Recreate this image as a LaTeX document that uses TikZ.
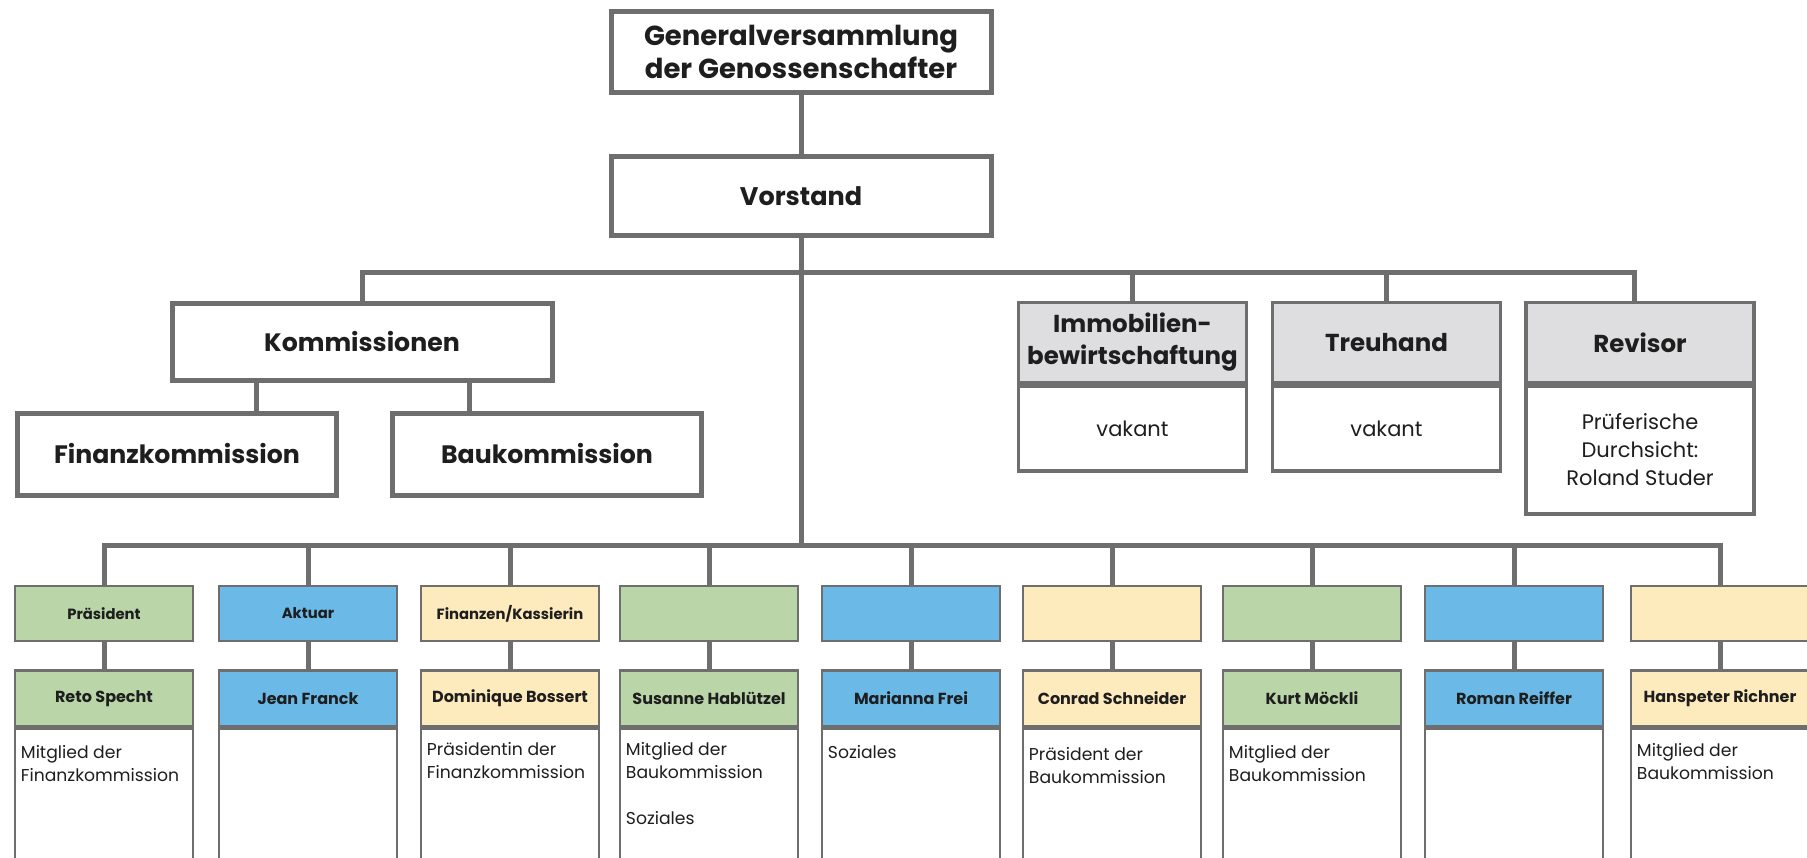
\documentclass[tikz,border=0pt]{standalone}
\usepackage{fontspec}
\setmainfont{Poppins}
\usetikzlibrary{calc}
\definecolor{lineGray}{HTML}{6E6E6E}
\definecolor{hdrGray}{HTML}{DEDEE0}
\definecolor{cGreen}{HTML}{BAD5A8}
\definecolor{cBlue}{HTML}{6BB9E7}
\definecolor{cYellow}{HTML}{FEEBBD}
\definecolor{txt}{HTML}{1E1E1E}
\begin{document}
\begin{tikzpicture}[x=1pt,y=-1pt,
  lnk/.style={draw=lineGray,line width=5pt},
  bigbox/.style={draw=lineGray,line width=5pt,fill=white,align=center,text=txt,inner sep=0pt},
  hdrbox/.style={draw=lineGray,line width=3.5pt,fill=hdrGray,align=center,text=txt,inner sep=0pt,
     minimum width=228pt,minimum height=80pt,font=\bfseries\fontsize{24.5}{32}\selectfont},
  hbody/.style={draw=lineGray,line width=3.5pt,fill=white,align=center,text=txt,inner sep=0pt,
     minimum width=228pt,anchor=north,font=\fontsize{21}{28}\selectfont},
  rolebox/.style={draw=lineGray,line width=2.5pt,align=center,text=txt,inner sep=0pt,
     minimum width=178pt,minimum height=55pt,font=\bfseries\fontsize{14.8}{17}\selectfont},
  namebox/.style={draw=lineGray,line width=2.5pt,align=center,text=txt,inner sep=0pt,
     minimum width=178pt,minimum height=56pt,anchor=north,font=\bfseries\fontsize{16}{18}\selectfont},
  bodybox/.style={draw=lineGray,line width=2.5pt,fill=white,inner sep=0pt,
     minimum width=178pt,minimum height=150pt,anchor=north},
  bodytxt/.style={align=left,text=txt,inner sep=0pt,anchor=north west,font=\fontsize{17.2}{23}\selectfont}
]
\useasboundingbox[fill=white] (0,0) rectangle (1807,857);

% top
\node[bigbox,minimum width=380pt,minimum height=81pt,font=\bfseries\fontsize{27.5}{33}\selectfont] (gv) at (801,52) {Generalversammlung\\der Genossenschafter};
\node[bigbox,minimum width=380pt,minimum height=79pt,font=\bfseries\fontsize{25.5}{33}\selectfont] (vs) at (801,196) {Vorstand};

% commissions
\node[bigbox,minimum width=380pt,minimum height=77pt,font=\bfseries\fontsize{25.2}{30}\selectfont] (komm) at (362,342) {Kommissionen};
\node[bigbox,minimum width=319pt,minimum height=82pt,font=\bfseries\fontsize{25.2}{30}\selectfont] (fin) at (177,454) {Finanzkommission};
\node[bigbox,minimum width=309pt,minimum height=82pt,font=\bfseries\fontsize{25.2}{30}\selectfont] (bau) at (547,454) {Baukommission};

% right boxes
\node[hdrbox] (imm) at (1132.5,342.5) {Immobilien-\\bewirtschaftung};
\node[hbody,minimum height=85pt] (immb) at (imm.south) {vakant};
\node[hdrbox] (treu) at (1386.5,342.5) {Treuhand};
\node[hbody,minimum height=85pt] (treub) at (treu.south) {vakant};
\node[hdrbox] (rev) at (1640,342.5) {Revisor};
\node[hbody,minimum height=128pt] (revb) at (rev.south) {Prüferische\\Durchsicht:\\Roland Studer};

% bottom columns
\foreach \i/\cx/\col/\role/\nm in {
  1/104/cGreen/Präsident/Reto Specht,
  2/308/cBlue/Aktuar/Jean Franck,
  3/510/cYellow/Finanzen\slash Kassierin/Dominique Bossert,
  4/709/cGreen//Susanne Hablützel,
  5/911/cBlue//Marianna Frei,
  6/1112/cYellow//Conrad Schneider,
  7/1312/cGreen//Kurt Möckli,
  8/1514/cBlue//Roman Reiffer,
  9/1720/cYellow//Hanspeter Richner}{
  \node[rolebox,fill=\col] (r\i) at (\cx,613.5) {\role};
  \node[namebox,fill=\col] (n\i) at (\cx,669) {\nm};
  \node[bodybox] (b\i) at (n\i.south) {};
  \draw[lnk] (r\i.south) -- (n\i.north);
}

\node[bodytxt] (t1) at ([xshift=7pt,yshift=-18pt]b1.north west) {Mitglied der\\Finanzkommission};
\node[bodytxt] (t3) at ([xshift=7pt,yshift=-15pt]b3.north west) {Präsidentin der\\Finanzkommission};
\node[bodytxt] (t4) at ([xshift=7pt,yshift=-15pt]b4.north west) {Mitglied der\\Baukommission\\[23pt]Soziales};
\node[bodytxt] (t5) at ([xshift=7pt,yshift=-18pt]b5.north west) {Soziales};
\node[bodytxt] (t6) at ([xshift=7pt,yshift=-20pt]b6.north west) {Präsident der\\Baukommission};
\node[bodytxt] (t7) at ([xshift=7pt,yshift=-18pt]b7.north west) {Mitglied der\\Baukommission};
\node[bodytxt] (t9) at ([xshift=7pt,yshift=-16pt]b9.north west) {Mitglied der\\Baukommission};

% connectors
\coordinate (ub) at (vs.south |- 0,272);
\coordinate (lb) at (vs.south |- 0,545);
\draw[lnk] (gv.south) -- (vs.north);
\draw[lnk] (vs.south) -- (lb);
\draw[lnk] (komm.north) |- (ub) -| ([xshift=-6pt]rev.north);
\draw[lnk] (imm.north) -- (imm.north |- ub);
\draw[lnk] (treu.north) -- (treu.north |- ub);
\draw[lnk] ([xshift=87pt]komm.south west) coordinate (k1) -- (k1 |- fin.north);
\draw[lnk] ([xshift=-85pt]komm.south east) coordinate (k2) -- (k2 |- bau.north);
\draw[lnk] (r1.north) |- (lb) -| (r9.north);
\foreach \i in {2,...,8}{
  \draw[lnk] (r\i.north) -- (r\i.north |- lb);
}
\end{tikzpicture}
\end{document}
